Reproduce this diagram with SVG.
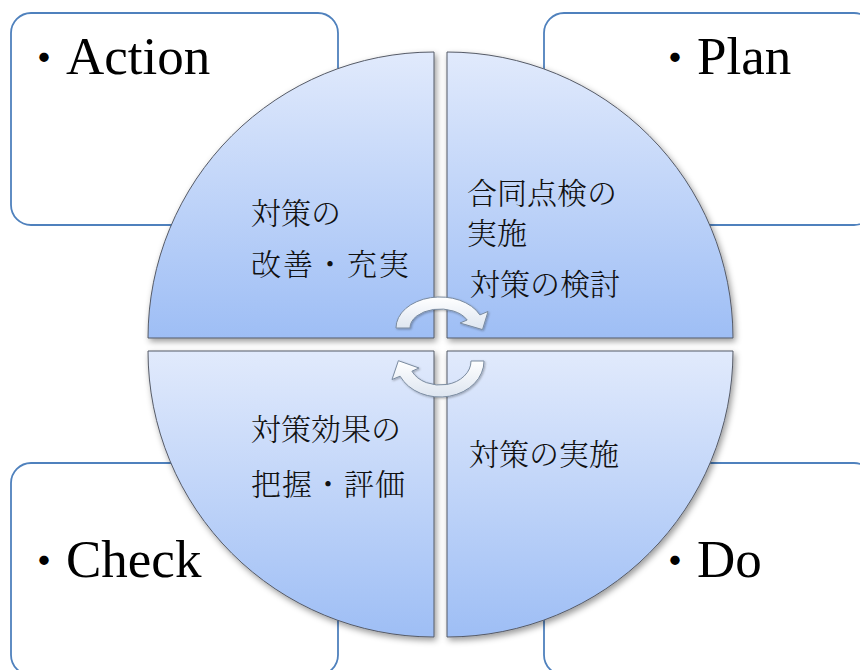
<svg xmlns="http://www.w3.org/2000/svg" width="860" height="670" viewBox="0 0 860 670">
  <defs>
    <linearGradient id="quadFill" x1="0" y1="0" x2="0" y2="1">
      <stop offset="0" stop-color="#e1eafc"/>
      <stop offset="1" stop-color="#9ebef5"/>
    </linearGradient>
    <linearGradient id="arrowFill" x1="0" y1="0" x2="0" y2="1">
      <stop offset="0" stop-color="#ffffff"/>
      <stop offset="1" stop-color="#dde5f0"/>
    </linearGradient>
    <filter id="shadow" x="-10%" y="-10%" width="125%" height="125%">
      <feDropShadow dx="2" dy="3" stdDeviation="3" flood-color="#000" flood-opacity="0.4"/>
    </filter>
    <filter id="arrowShadow" x="-20%" y="-20%" width="140%" height="140%">
      <feDropShadow dx="1" dy="1" stdDeviation="1" flood-color="#000" flood-opacity="0.3"/>
    </filter>
  </defs>
  <style>
    .box { fill: #ffffff; stroke: #4f81bd; stroke-width: 1.8; }
    .quad { fill: url(#quadFill); stroke: #555a66; stroke-width: 1; filter: url(#shadow); }
    .label { font-family: "Liberation Serif", "Noto Sans CJK JP", serif; font-size: 53px; fill: #000; }
    .dot { font-size: 44px; }
    .jp { font-family: "Noto Serif CJK JP", "Noto Sans CJK JP", serif; font-size: 30px; font-weight: 300; fill: #111; }
    .arrow { fill: url(#arrowFill); stroke: #7a8ba0; stroke-width: 1; filter: url(#arrowShadow); }
  </style>
  <rect width="860" height="670" fill="#ffffff"/>

  <g id="action-box">
    <rect class="box" x="11" y="13" width="327" height="212" rx="20"/>
    <text class="label" x="22" y="74"><tspan class="dot">・</tspan>Action</text>
  </g>
  <g id="plan-box">
    <rect class="box" x="544" y="13" width="330" height="212" rx="20"/>
    <text class="label" x="653" y="74"><tspan class="dot">・</tspan>Plan</text>
  </g>
  <g id="check-box">
    <rect class="box" x="11" y="463" width="327" height="212" rx="20"/>
    <text class="label" x="22" y="577"><tspan class="dot">・</tspan>Check</text>
  </g>
  <g id="do-box">
    <rect class="box" x="544" y="463" width="330" height="212" rx="20"/>
    <text class="label" x="653" y="577"><tspan class="dot">・</tspan>Do</text>
  </g>

  <g id="quad-action">
    <path class="quad" d="M434,338 L148,338 A286,286 0 0 1 434,52 Z"/>
    <text class="jp" x="251" y="224">対策の</text>
    <text class="jp" x="251" y="275" letter-spacing="2">改善・充実</text>
  </g>
  <g id="quad-plan">
    <path class="quad" d="M447,338 L447,52 A286,286 0 0 1 733,338 Z"/>
    <text class="jp" x="467" y="204">合同点検の</text>
    <text class="jp" x="467" y="244">実施</text>
    <text class="jp" x="470" y="295">対策の検討</text>
  </g>
  <g id="quad-check">
    <path class="quad" d="M434,351 L434,637 A286,286 0 0 1 148,351 Z"/>
    <text class="jp" x="251" y="440">対策効果の</text>
    <text class="jp" x="251" y="495" letter-spacing="1">把握・評価</text>
  </g>
  <g id="quad-do">
    <path class="quad" d="M447,351 L733,351 A286,286 0 0 1 447,637 Z"/>
    <text class="jp" x="469" y="465">対策の実施</text>
  </g>

  <g id="connectors">
    <path id="arrow-top" class="arrow" d="M396,328 A44,31 0 0 1 479.9,314.9 L488,311.5 L482.5,329.6 L460,323 L467.2,320 A30,19 0 0 0 410,328 Z"/>
    <path id="arrow-bottom" class="arrow" d="M484,361 A44,36 0 0 1 400.1,376.2 L392,379.5 L398.4,360.7 L419,368 L411.9,371.2 A31,24 0 0 0 471,361 Z"/>
  </g>
</svg>
